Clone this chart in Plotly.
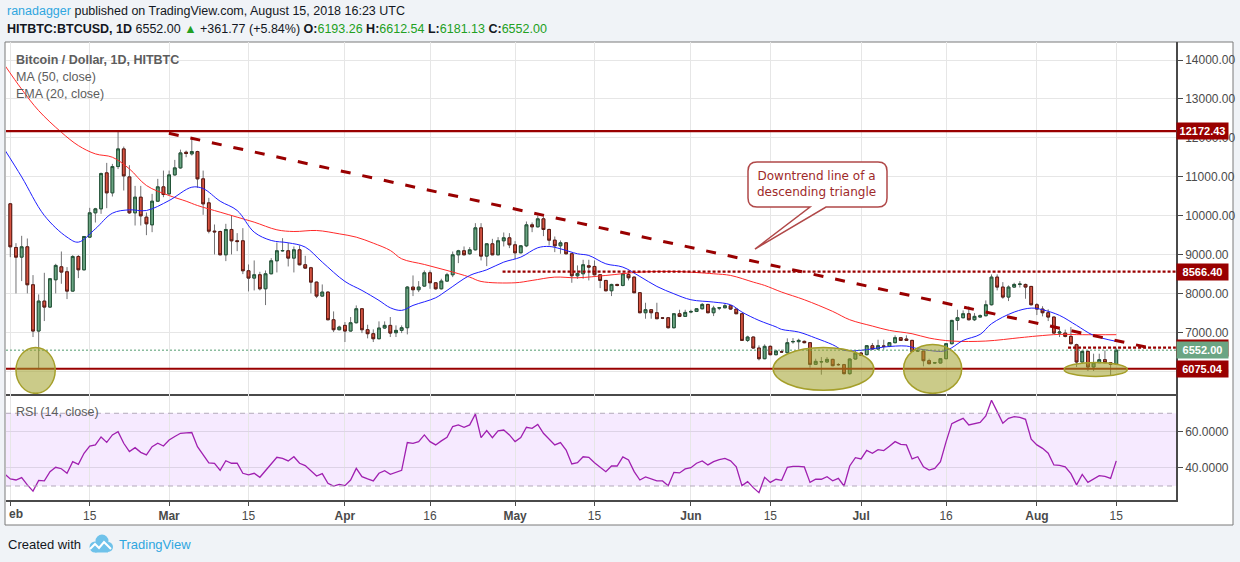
import pandas as pd
import plotly.graph_objects as go

W, H = 1240, 562

# ---- daily candles, Feb 1 - Aug 15 2018 ----
dates = pd.date_range("2018-02-01", "2018-08-15", freq="D")

opens = [
    10308, 9188, 8940, 9205, 8231, 7043, 7812, 7658, 8359, 8692, 8564, 8068, 8957, 8615,
    9453, 10077, 10180, 11103, 10590, 11265, 11718, 11000, 10077, 10479, 9966, 9769, 10376, 10744,
    10564, 11051, 11231, 11632, 11590, 11650, 10949, 10333, 9607, 9598, 9000, 9650, 9360, 9359,
    8590, 8402, 8487, 8128, 8513, 8846, 9100, 9103, 8915, 9128, 8744, 8667, 8299, 7940, 8043, 7333, 7077,
    7188, 7043, 7256, 7615, 7077, 6975, 6846, 7120, 7188, 7000, 7060, 7128, 8171, 8103, 8197,
    8538, 8282, 8128, 8325, 8487, 9000, 9103, 9026, 9128, 9692, 8966, 9282, 9000, 9359, 9436,
    9256, 9051, 9231, 9769, 9718, 9923, 9650, 9376, 9231, 9308, 9026, 8462, 8513, 8718, 8701,
    8487, 8342, 8077, 8239, 8214, 8496, 8427, 8026, 7513, 7590, 7513, 7380, 7385, 7128, 7487, 7419,
    7530, 7545, 7615, 7726, 7513, 7632, 7640, 7692, 7607, 7487, 6803, 6889, 6607, 6333, 6650,
    6436, 6513, 6487, 6765, 6770, 6778, 6744, 6188, 6250, 6248, 6316, 6184, 6180, 5949, 6325,
    6479, 6436, 6667, 6581, 6660, 6650, 6744, 6872, 6838, 6803, 6530, 6530, 6282, 6225, 6222,
    6333, 6718, 7316, 7385, 7487, 7333, 7402, 7436, 7718, 8427, 8171, 7915, 8171, 8240, 8239, 8188,
    7718, 7607, 7513, 7402, 6991, 6991, 6906, 6692, 6248, 6521, 6120, 6231, 6308, 6231, 6193.26,
]
highs = [
    10330, 9299, 9487, 9419, 8479, 7983, 8538, 8400, 8769, 9085, 8684, 8991, 8991, 9480,
    10205, 10205, 11111, 11359, 11333, 12188, 11778, 11300, 10769, 10769, 10085, 10564, 10949, 11162,
    11162, 11436, 11700, 11675, 11974, 11670, 11162, 10462, 9778, 9620, 9795, 10000, 9556, 9684,
    8752, 8855, 8564, 8598, 8915, 9316, 9427, 9307, 9214, 9239, 8974, 8690, 8310, 8239, 8060, 7547, 7180,
    7274, 7402, 7701, 7630, 7205, 7086, 7291, 7291, 7402, 7188, 7188, 8197, 8470, 8325, 8598,
    8598, 8300, 8385, 8538, 9085, 9128, 9214, 9197, 9812, 9812, 9300, 9410, 9453, 9573, 9556,
    9350, 9250, 9855, 9830, 10009, 9983, 9670, 9470, 9368, 9320, 9040, 8727, 8872, 8872, 8855,
    8500, 8350, 8256, 8256, 8538, 8538, 8440, 8040, 7769, 7600, 7769, 7400, 7390, 7500, 7590, 7590,
    7590, 7620, 7761, 7740, 7692, 7650, 7744, 7700, 7620, 7500, 6923, 6900, 6675, 6701, 6675,
    6564, 6564, 6855, 6863, 6846, 6800, 6760, 6333, 6376, 6376, 6330, 6222, 6200, 6340, 6547,
    6504, 6680, 6735, 6820, 6820, 6760, 6932, 6890, 6932, 6815, 6615, 6545, 6333, 6250, 6340,
    6730, 7330, 7590, 7573, 7675, 7504, 7470, 7829, 8496, 8496, 8299, 8214, 8282, 8325, 8260, 8200,
    7760, 7680, 7600, 7410, 7103, 7080, 7145, 6718, 6547, 6547, 6462, 6462, 6547, 6240, 6612.54,
]
lows = [
    8940, 8009, 8325, 8009, 6889, 6060, 7299, 7640, 8009, 8256, 7863, 8060, 8402, 8600,
    9440, 9829, 10051, 10197, 10496, 11200, 10650, 10050, 9752, 9752, 9504, 9581, 10360, 10479,
    10540, 11030, 11210, 11504, 11547, 10718, 10026, 9550, 9009, 8990, 8838, 9009, 9094, 8504,
    8060, 8086, 8086, 7709, 8500, 8547, 9080, 8701, 8547, 8730, 8640, 8009, 7889, 7930, 7320, 7017, 7060,
    6761, 7030, 7240, 6991, 6855, 6761, 6830, 7100, 6889, 6889, 6991, 6957, 7940, 8043, 8180,
    8128, 8103, 8110, 8310, 8427, 8786, 8990, 9000, 9110, 8855, 8710, 8990, 8990, 9214, 9171,
    8889, 9040, 9197, 9581, 9700, 9479, 9239, 9068, 9026, 9010, 8282, 8385, 8385, 8342, 8470,
    8145, 8060, 7940, 8190, 8190, 8342, 8020, 7500, 7359, 7359, 7359, 7350, 7110, 7110, 7402, 7410,
    7500, 7530, 7600, 7500, 7427, 7580, 7630, 7590, 7480, 6790, 6761, 6590, 6291, 6320, 6420,
    6419, 6480, 6470, 6718, 6573, 6730, 6103, 6170, 5923, 6230, 6140, 6150, 5930, 5923, 6310,
    6400, 6420, 6570, 6564, 6564, 6630, 6730, 6790, 6790, 6510, 6515, 6137, 6190, 6205, 6210,
    6320, 6700, 7060, 7370, 7316, 7300, 7390, 7420, 7700, 8086, 7872, 7812, 8160, 8160, 7872, 7700,
    7453, 7419, 7299, 6980, 6889, 6880, 6700, 6120, 6205, 6017, 6017, 6220, 6220, 5897, 6181.13,
]
closes = [
    9205, 8940, 9205, 8231, 7043, 7812, 7658, 8385, 8727, 8556, 8068, 8957, 8615, 9470,
    10077, 10180, 11085, 10590, 11265, 11718, 11026, 10077, 10479, 10000, 9795, 10376, 10744, 10547,
    11051, 11231, 11615, 11600, 11650, 10949, 10308, 9607, 9590, 9000, 9650, 9359, 9340, 8590,
    8402, 8487, 8128, 8513, 8846, 9103, 9110, 8915, 9128, 8744, 8658, 8299, 7940, 8043, 7333, 7077, 7145,
    7043, 7256, 7615, 7077, 6975, 6846, 7120, 7188, 6991, 7060, 7128, 8171, 8103, 8171, 8538,
    8282, 8128, 8325, 8487, 9000, 9103, 9000, 9128, 9692, 8966, 9282, 9000, 9359, 9436, 9256,
    9051, 9231, 9769, 9718, 9923, 9650, 9376, 9231, 9308, 9026, 8462, 8521, 8744, 8684, 8487,
    8342, 8077, 8239, 8214, 8513, 8410, 8026, 7513, 7590, 7513, 7359, 7375, 7128, 7487, 7419, 7521,
    7545, 7615, 7726, 7513, 7632, 7640, 7692, 7607, 7487, 6803, 6889, 6607, 6333, 6650, 6436,
    6530, 6505, 6744, 6775, 6803, 6744, 6188, 6265, 6257, 6316, 6154, 6180, 5949, 6325, 6479,
    6419, 6667, 6581, 6667, 6650, 6744, 6872, 6803, 6803, 6521, 6538, 6282, 6205, 6230, 6333,
    6718, 7316, 7385, 7487, 7333, 7419, 7436, 7718, 8427, 8171, 7915, 8171, 8239, 8248, 8171, 7718,
    7607, 7513, 7402, 6991, 7017, 6906, 6718, 6248, 6521, 6120, 6231, 6308, 6231, 6190, 6552.00,
]

# moving averages, read at sample dates
ma50_dates = ["2018-01-31", "2018-02-03", "2018-02-06", "2018-02-10", "2018-02-13", "2018-02-16",
              "2018-02-19", "2018-02-22", "2018-02-25", "2018-03-01", "2018-03-04", "2018-03-06",
              "2018-03-10", "2018-03-13", "2018-03-16", "2018-03-20", "2018-03-23", "2018-03-27",
              "2018-03-31", "2018-04-03", "2018-04-06", "2018-04-09", "2018-04-11", "2018-04-15",
              "2018-04-19", "2018-04-23", "2018-04-25", "2018-05-01", "2018-05-04", "2018-05-08",
              "2018-05-12", "2018-05-17", "2018-05-23", "2018-05-29", "2018-06-05", "2018-06-08",
              "2018-06-12", "2018-06-14", "2018-06-17", "2018-06-21", "2018-06-26", "2018-06-29",
              "2018-07-03", "2018-07-06", "2018-07-10", "2018-07-13", "2018-07-17", "2018-07-23",
              "2018-07-29", "2018-08-01", "2018-08-05", "2018-08-09", "2018-08-15"]
ma50_values = [13870, 13250, 12700, 12145, 11803, 11590, 11504, 11205, 10778, 10521, 10376, 10265,
               10094, 9966, 9838, 9641, 9598, 9624, 9538, 9453, 9299, 9111, 8897, 8752,
               8598, 8427, 8316, 8282, 8342, 8427, 8410, 8470, 8556, 8573, 8513, 8470,
               8299, 8214, 8043, 7846, 7547, 7333, 7171, 7060, 6974, 6863, 6786, 6786,
               6872, 6915, 6957, 6949, 6949]

ema20_dates = ["2018-01-31", "2018-02-03", "2018-02-07", "2018-02-11", "2018-02-13", "2018-02-16",
               "2018-02-19", "2018-02-22", "2018-02-25", "2018-03-01", "2018-03-05", "2018-03-07",
               "2018-03-10", "2018-03-13", "2018-03-16", "2018-03-19", "2018-03-22", "2018-03-25",
               "2018-03-28", "2018-04-01", "2018-04-04", "2018-04-07", "2018-04-09", "2018-04-11",
               "2018-04-13", "2018-04-17", "2018-04-19", "2018-04-23", "2018-04-26", "2018-04-29",
               "2018-05-02", "2018-05-05", "2018-05-07", "2018-05-09", "2018-05-12", "2018-05-14",
               "2018-05-17", "2018-05-20", "2018-05-23", "2018-05-26", "2018-05-29", "2018-06-01",
               "2018-06-05", "2018-06-08", "2018-06-10", "2018-06-13", "2018-06-16", "2018-06-17",
               "2018-06-20", "2018-06-23", "2018-06-26", "2018-06-28", "2018-07-02", "2018-07-05",
               "2018-07-09", "2018-07-11", "2018-07-15", "2018-07-16", "2018-07-17", "2018-07-19",
               "2018-07-22", "2018-07-24", "2018-07-28", "2018-07-31", "2018-08-02", "2018-08-05",
               "2018-08-08", "2018-08-11", "2018-08-15"]
ema20_values = [11700, 11000, 10009, 9453, 9325, 9667, 10068, 10154, 10137, 10393, 10735, 10700,
                10376, 10137, 9581, 9368, 9308, 9197, 8812, 8316, 8086, 7829, 7640, 7573,
                7701, 7897, 8086, 8470, 8615, 8812, 8940, 9180, 9214, 9154, 9026, 8983,
                8769, 8684, 8444, 8188, 8000, 7846, 7786, 7718, 7530, 7316, 7150, 7085,
                7017, 6863, 6692, 6547, 6564, 6632, 6658, 6590, 6521, 6545, 6615, 6803,
                6957, 7231, 7530, 7632, 7590, 7444, 7188, 6932, 6778]

# RSI(14), Jan 31 - Aug 15
rsi_dates = pd.date_range("2018-01-31", "2018-08-15", freq="D")
rsi_values = [
    36.6,
    33.9, 33.3, 34.6, 30.6, 27.2, 33.1, 32.8, 37.9, 40.3, 39.5, 37.0, 43.4, 41.9, 48.0,
    52.0, 52.6, 57.0, 54.0, 58.1, 59.9, 53.5, 48.9, 51.1, 48.5, 47.1, 51.6, 53.5, 52.0,
    55.3, 57.2, 59.0, 59.2, 59.4, 51.6, 47.1, 42.7, 42.5, 38.6, 43.9, 42.5, 42.5, 37.0, 36.1,
    37.0, 34.8, 38.6, 42.5, 45.8, 45.2, 43.8, 46.1, 42.5, 41.2, 38.3, 35.5, 36.8, 31.5, 30.0, 30.9,
    30.2, 33.3, 39.7, 35.1, 33.9, 32.8, 37.0, 38.4, 36.4, 37.5, 38.6, 53.9, 53.5, 54.4, 58.1,
    54.4, 52.6, 54.8, 56.8, 62.7, 63.6, 62.3, 63.6, 69.6, 56.6, 60.5, 56.6, 60.3, 60.8, 58.1,
    54.4, 56.6, 62.3, 61.7, 63.9, 59.0, 55.7, 52.6, 53.9, 49.8, 42.1, 42.8, 46.1, 45.8, 42.8,
    40.6, 37.9, 41.0, 41.0, 46.0, 44.3, 37.9, 33.3, 35.0, 33.9, 32.8, 32.8, 30.2, 37.5, 37.2, 39.4,
    40.1, 42.5, 43.8, 41.6, 43.4, 44.5, 45.2, 43.8, 40.6, 30.2, 32.4, 29.1, 26.3, 34.8, 32.0,
    33.7, 33.1, 40.3, 40.8, 40.8, 40.5, 32.0, 33.7, 33.7, 35.1, 32.9, 34.2, 30.0, 41.0, 45.6,
    44.9, 49.6, 48.0, 50.0, 49.5, 51.8, 54.4, 52.9, 52.6, 44.9, 46.1, 40.6, 38.8, 39.7, 43.4,
    54.4, 64.3, 65.8, 67.2, 63.6, 64.3, 65.0, 68.5, 77.2, 70.9, 64.5, 67.2, 68.2, 67.8, 66.7, 55.7,
    52.6, 50.7, 48.0, 41.6, 41.4, 40.5, 36.8, 30.6, 36.4, 32.0, 33.9, 35.7, 35.3, 34.2, 43.8,
]

assert len(opens) == len(highs) == len(lows) == len(closes) == len(dates)
assert len(rsi_values) == len(rsi_dates)

# drawn levels
solid_levels = [12172.43, 6075.04]
dotted_levels = [8566.40, 6617.50]
dotted_starts = ["2018-04-28 19:00", "2018-08-06 12:00"]
last_price = 6552.00
trend_dates = ["2018-02-28 23:00", "2018-08-21 02:00"]
trend_prices = [12118, 6605]
ellipse_x0 = ["2018-02-02 00:00", "2018-06-15 12:00", "2018-07-08 12:00", "2018-08-05 19:00"]
ellipse_x1 = ["2018-02-08 22:00", "2018-07-03 06:00", "2018-07-18 18:00", "2018-08-16 23:00"]
ellipse_y0 = [5444, 5521, 5444, 5879]
ellipse_y1 = [6623, 6623, 6700, 6238]

tick_dates = ["2018-02-01", "2018-02-15", "2018-03-01", "2018-03-15", "2018-04-01", "2018-04-16",
              "2018-05-01", "2018-05-15", "2018-06-01", "2018-06-15", "2018-07-01", "2018-07-16",
              "2018-08-01", "2018-08-15"]
# the "Feb" label is clipped by the pane edge in the original, leaving "eb"
tick_text = ["", "15", "<b>Mar</b>", "15", "<b>Apr</b>", "16", "<b>May</b>", "15",
             "<b>Jun</b>", "15", "<b>Jul</b>", "16", "<b>Aug</b>", "15"]
first_tick_label = "<b>eb</b>"

UP, DOWN = "#6ba583", "#d75442"
UP_EDGE, DOWN_EDGE = "#225437", "#5b1a13"
LEVEL = "#990000"
FONT = "Liberation Sans"


def fx(x):
    return x / W


def fy(y):
    return 1 - y / H


fig = go.Figure()

# wicks (grey) then bodies with dark borders
fig.add_trace(go.Candlestick(
    x=dates, open=opens, high=highs, low=lows, close=closes,
    increasing=dict(line=dict(color="#737375", width=1), fillcolor=UP),
    decreasing=dict(line=dict(color="#737375", width=1), fillcolor=DOWN),
    whiskerwidth=0, showlegend=False, hoverinfo="skip",
))
body_hi = [max(o, c) for o, c in zip(opens, closes)]
body_lo = [min(o, c) for o, c in zip(opens, closes)]
fig.add_trace(go.Candlestick(
    x=dates, open=opens, high=body_hi, low=body_lo, close=closes,
    increasing=dict(line=dict(color=UP_EDGE, width=1), fillcolor=UP),
    decreasing=dict(line=dict(color=DOWN_EDGE, width=1), fillcolor=DOWN),
    whiskerwidth=0, showlegend=False,
))

fig.add_trace(go.Scatter(x=ma50_dates, y=ma50_values, mode="lines", line_shape="spline",
                         line=dict(color="#ff2a2a", width=1), showlegend=False))
fig.add_trace(go.Scatter(x=ema20_dates, y=ema20_values, mode="lines", line_shape="spline",
                         line=dict(color="#1f1fff", width=1), showlegend=False))

fig.add_trace(go.Scatter(x=rsi_dates, y=rsi_values, mode="lines", xaxis="x2", yaxis="y2",
                         line=dict(color="#a020b0", width=1.3), showlegend=False))

shapes = []
# chart box
shapes.append(dict(type="rect", xref="paper", yref="paper", x0=fx(5), x1=fx(1233), y0=fy(525), y1=fy(42),
                   fillcolor="white", line=dict(color="#7a7a7a", width=1), layer="below"))
# RSI band and dashed bounds
shapes.append(dict(type="rect", xref="paper", yref="y2", x0=fx(6), x1=fx(1176), y0=30, y1=70,
                   fillcolor="rgba(153,21,255,0.09)", line=dict(width=0), layer="below"))
for v in (30, 70):
    shapes.append(dict(type="line", xref="paper", yref="y2", x0=fx(6), x1=fx(1176), y0=v, y1=v,
                       line=dict(color="#b3a9ba", width=1, dash="5px,4px"), layer="above"))
# last price
shapes.append(dict(type="line", xref="paper", yref="y", x0=fx(6), x1=fx(1176), y0=last_price, y1=last_price,
                   line=dict(color="#4f9a6c", width=1, dash="2px,2px"), layer="above"))
for v in solid_levels:
    shapes.append(dict(type="line", xref="paper", yref="y", x0=fx(6), x1=fx(1176), y0=v, y1=v,
                       line=dict(color=LEVEL, width=2.2), layer="above"))
for v, s in zip(dotted_levels, dotted_starts):
    shapes.append(dict(type="line", xref="x", yref="y", x0=s, x1="2018-08-25 12:00", y0=v, y1=v,
                       line=dict(color=LEVEL, width=2.2, dash="3px,2px"), layer="above"))
shapes.append(dict(type="line", xref="x", yref="y", x0=trend_dates[0], x1=trend_dates[1],
                   y0=trend_prices[0], y1=trend_prices[1],
                   line=dict(color=LEVEL, width=3, dash="10px,12px"), layer="above"))
for a, b, c, d in zip(ellipse_x0, ellipse_x1, ellipse_y0, ellipse_y1):
    shapes.append(dict(type="circle", xref="x", yref="y", x0=a, x1=b, y0=c, y1=d,
                       fillcolor="rgba(160,160,40,0.55)", line=dict(color="#a59f2a", width=1.5),
                       layer="above"))

# callout box with tail
x0, x1, y0, y1, r = 748, 887, 162, 207, 9
pts = f"M{fx(x0 + r)},{fy(y0)} L{fx(x1 - r)},{fy(y0)} Q{fx(x1)},{fy(y0)} {fx(x1)},{fy(y0 + r)} " \
      f"L{fx(x1)},{fy(y1 - r)} Q{fx(x1)},{fy(y1)} {fx(x1 - r)},{fy(y1)} L{fx(826)},{fy(y1)} " \
      f"L{fx(755)},{fy(249)} L{fx(810)},{fy(y1)} L{fx(x0 + r)},{fy(y1)} " \
      f"Q{fx(x0)},{fy(y1)} {fx(x0)},{fy(y1 - r)} L{fx(x0)},{fy(y0 + r)} Q{fx(x0)},{fy(y0)} {fx(x0 + r)},{fy(y0)} Z"
shapes.append(dict(type="path", xref="paper", yref="paper", path=pts, fillcolor="white",
                   line=dict(color="#b04848", width=1.5), layer="above"))

# TradingView logo
for cx, cy, rr in [(95, 547, 5.5), (102, 541, 6.5), (108, 547, 5)]:
    shapes.append(dict(type="circle", xref="paper", yref="paper", x0=fx(cx - rr), x1=fx(cx + rr),
                       y0=fy(cy + rr), y1=fy(cy - rr), fillcolor="#6fc2ea", line=dict(width=0)))
shapes.append(dict(type="rect", xref="paper", yref="paper", x0=fx(95), x1=fx(108), y0=fy(552.5), y1=fy(545),
                   fillcolor="#6fc2ea", line=dict(width=0)))
shapes.append(dict(type="path", xref="paper", yref="paper",
                   path=f"M{fx(90)},{fy(549)} L{fx(95)},{fy(544)} L{fx(99)},{fy(548)} L{fx(104)},{fy(542)} L{fx(111)},{fy(549)}",
                   line=dict(color="white", width=2)))

ann = []
ann.append(dict(xref="paper", yref="paper", x=fx(5), y=fy(11), xanchor="left", yanchor="middle", showarrow=False,
                text='<span style="color:#2fa6df">ranadagger</span> published on TradingView.com, August 15, 2018 16:23 UTC',
                font=dict(family=FONT, size=12.5, color="#131722")))
G = "#22a022"
ann.append(dict(xref="paper", yref="paper", x=fx(5), y=fy(29), xanchor="left", yanchor="middle", showarrow=False,
                text=f'<b>HITBTC:BTCUSD, 1D</b> 6552.00 <span style="color:{G}">▲</span> +361.77 (+5.84%) '
                     f'<b>O:</b><span style="color:{G}">6193.26</span> <b>H:</b><span style="color:{G}">6612.54</span> '
                     f'<b>L:</b><span style="color:{G}">6181.13</span> <b>C:</b><span style="color:{G}">6552.00</span>',
                font=dict(family=FONT, size=12.5, color="#131722")))
ann.append(dict(xref="paper", yref="paper", x=fx(14), y=fy(60), xanchor="left", yanchor="middle", showarrow=False,
                text="<b>Bitcoin / Dollar, 1D, HITBTC</b>", font=dict(family=FONT, size=12.5, color="#5d5d5d")))
ann.append(dict(xref="paper", yref="paper", x=fx(14), y=fy(77), xanchor="left", yanchor="middle", showarrow=False,
                text="MA (50, close)", font=dict(family=FONT, size=12.5, color="#5d5d5d")))
ann.append(dict(xref="paper", yref="paper", x=fx(14), y=fy(94), xanchor="left", yanchor="middle", showarrow=False,
                text="EMA (20, close)", font=dict(family=FONT, size=12.5, color="#5d5d5d")))
ann.append(dict(xref="paper", yref="paper", x=fx(14), y=fy(412), xanchor="left", yanchor="middle", showarrow=False,
                text="RSI (14, close)", font=dict(family=FONT, size=12.5, color="#5d5d5d")))
ann.append(dict(xref="paper", yref="paper", x=fx(817), y=fy(184.5), xanchor="center", yanchor="middle",
                showarrow=False, text="Downtrend line of a<br>descending triangle",
                font=dict(family="DejaVu Sans", size=12, color="#9e2a2a")))
ann.append(dict(xref="paper", yref="paper", x=fx(7), y=fy(514), xanchor="left", yanchor="middle", showarrow=False,
                text=first_tick_label, font=dict(family=FONT, size=12, color="#4a4a4a")))
ann.append(dict(xref="paper", yref="paper", x=fx(6), y=fy(544), xanchor="left", yanchor="middle", showarrow=False,
                text="Created with", font=dict(family=FONT, size=13, color="#131722")))
ann.append(dict(xref="paper", yref="paper", x=fx(117), y=fy(544), xanchor="left", yanchor="middle", showarrow=False,
                text="TradingView", font=dict(family=FONT, size=13, color="#2fa6df")))

# price labels on the right axis
for v, col in [(solid_levels[0], LEVEL), (dotted_levels[0], LEVEL), (dotted_levels[1], LEVEL),
               (last_price, UP), (solid_levels[1], LEVEL)]:
    ann.append(dict(xref="paper", yref="y", x=fx(1176), y=v, xanchor="left", yanchor="middle", showarrow=False,
                    text=f"<b>{v:.2f}</b>", bgcolor=col, width=49, height=14, borderpad=1,
                    font=dict(family=FONT, size=11, color="white")))

price_dom = [fy(394), fy(42)]
rsi_dom = [fy(500), fy(394)]
xdom = [fx(6), fx(1176)]
xrange = ["2018-01-31 05:45", "2018-08-25 12:45"]

fig.update_layout(
    width=W, height=H, margin=dict(l=0, r=0, t=0, b=0),
    paper_bgcolor="#f0f3f7", plot_bgcolor="rgba(0,0,0,0)",
    showlegend=False, shapes=shapes, annotations=ann,
    font=dict(family=FONT, size=12, color="#4a4a4a"),
    xaxis=dict(domain=xdom, anchor="y", range=xrange, type="date", rangeslider=dict(visible=False),
               tickvals=tick_dates, showticklabels=False, showgrid=True, gridcolor="#e6e6e6",
               showline=True, linecolor="#4a4a4a", linewidth=1.5, zeroline=False, ticks=""),
    yaxis=dict(domain=price_dom, anchor="x", side="right", range=[5427, 14462], dtick=1000, tick0=0,
               tickformat=".2f", showgrid=True, gridcolor="#e6e6e6", showline=True, linecolor="#4a4a4a",
               linewidth=1.5, ticks="outside", ticklen=5, tickcolor="#4a4a4a", zeroline=False,
               tickfont=dict(family=FONT, size=12, color="#4a4a4a")),
    xaxis2=dict(domain=xdom, anchor="y2", range=xrange, type="date", matches="x",
                tickvals=tick_dates, ticktext=tick_text, showgrid=True, gridcolor="#e6e6e6",
                showline=True, linecolor="#4a4a4a", linewidth=1.5, ticks="outside", ticklen=4,
                tickcolor="#4a4a4a", zeroline=False, tickfont=dict(family=FONT, size=12, color="#4a4a4a")),
    yaxis2=dict(domain=rsi_dom, anchor="x2", side="right", range=[22.3, 80.6], tickvals=[40, 60],
                tickformat=".4f", showgrid=True, gridcolor="#ddd3e6", showline=True, linecolor="#4a4a4a",
                linewidth=1.5, ticks="outside", ticklen=5, tickcolor="#4a4a4a", zeroline=False,
                tickfont=dict(family=FONT, size=12, color="#4a4a4a")),
)

# the page's default body margin would shift the figure by 8px
fig.write_html("out.html", config={"displayModeBar": False},
               post_script="document.body.style.margin='0';")
